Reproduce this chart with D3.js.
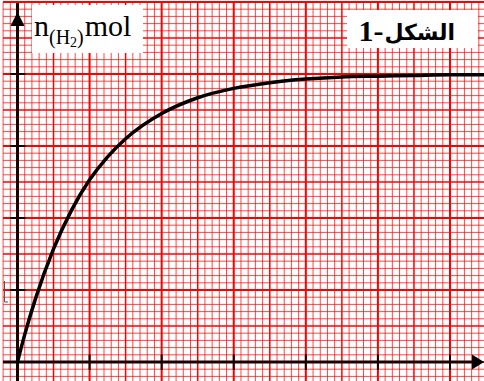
<!DOCTYPE html>
<html>
<head>
<meta charset="utf-8">
<script src="https://cdn.jsdelivr.net/npm/d3@7"></script>
<style>
  html, body { margin: 0; padding: 0; background: #fff; }
  svg { display: block; }
</style>
</head>
<body>
<script>
// Amount of H2 (mol) over time, read in grid units (1 unit = one major square)
const timeUnits = [0, 0.1, 0.25, 0.5, 0.75, 1, 1.25, 1.5, 2, 2.5, 3, 3.5, 4, 4.5, 5, 5.5, 6, 6.5];
const nH2Units  = [0, 0.38, 0.88, 1.57, 2.11, 2.53, 2.85, 3.1, 3.45, 3.67, 3.8, 3.88, 3.93, 3.96, 3.97, 3.98, 3.99, 3.99];
const xTicks = [1, 2, 3, 4, 5, 6];
const yTicks = [1, 2, 3, 4];
const yLabel = ["n", "(H", "2", ")", "mol"];
const figureWord = "الشكل";
const figureNumber = "1-";

const W = 484, H = 381;
const svg = d3.select("body").append("svg").attr("width", W).attr("height", H);

const x = d3.scaleLinear().domain([0, 6]).range([17.5, 450]);
const y = d3.scaleLinear().domain([0, 4]).range([362, 74]);

// graph paper: minor lines every 0.1 unit, heavier every 0.5 and 1
const gx = d3.range(-2, 66).map(i => i / 10);
const gy = d3.range(-2, 51).map(i => i / 10);
const weight = v => {
  const k = Math.round(v * 10);
  if (k % 10 === 0) return 2;
  if (k % 5 === 0) return 1.5;
  return 1;
};
const grid = svg.append("g").attr("stroke", "#ff0000");
grid.selectAll("line.v").data(gx).join("line").attr("class", "v")
  .attr("x1", d => x(d)).attr("x2", d => x(d))
  .attr("y1", 2).attr("y2", H)
  .attr("stroke-width", weight)
  .attr("stroke-opacity", d => weight(d) > 1 ? 1 : 0.72);
grid.selectAll("line.h").data(gy).join("line").attr("class", "h")
  .attr("y1", d => y(d)).attr("y2", d => y(d))
  .attr("x1", 3).attr("x2", W)
  .attr("stroke-width", weight)
  .attr("stroke-opacity", d => weight(d) > 1 ? 1 : 0.72);

// axes
const axisColor = "#1a0000";
svg.append("line").attr("x1", 3).attr("x2", 474).attr("y1", y(0)).attr("y2", y(0))
  .attr("stroke", axisColor).attr("stroke-width", 3);
svg.append("line").attr("x1", x(0)).attr("x2", x(0)).attr("y1", 3).attr("y2", H)
  .attr("stroke", axisColor).attr("stroke-width", 3);
// arrow heads
svg.append("path")
  .attr("d", `M${W},${y(0)} L${W - 12},${y(0) - 7.5} L${W - 12},${y(0) + 7.5} Z`)
  .attr("fill", "#000");
svg.append("path")
  .attr("d", `M${x(0)},12 L${x(0) - 7},26 L${x(0) + 7},26 Z`)
  .attr("fill", "#000");
// tick marks
svg.append("g").selectAll("line").data(xTicks).join("line")
  .attr("x1", d => x(d)).attr("x2", d => x(d))
  .attr("y1", y(0) - 7.5).attr("y2", y(0) + 8)
  .attr("stroke", axisColor).attr("stroke-width", 2);
svg.append("g").selectAll("line").data(yTicks).join("line")
  .attr("y1", d => y(d)).attr("y2", d => y(d))
  .attr("x1", x(0) - 7.5).attr("x2", x(0) + 8)
  .attr("stroke", axisColor).attr("stroke-width", 2);

// small stray mark at the left edge
svg.append("path").attr("d", "M4.5,281 L4.5,302 L8,302")
  .attr("fill", "none").attr("stroke", "#555").attr("stroke-width", 1);

// curve
const pts = timeUnits.map((t, i) => [t, nH2Units[i]]);
svg.append("path").datum(pts)
  .attr("fill", "none").attr("stroke", "#000").attr("stroke-width", 3.5)
  .attr("stroke-linecap", "round")
  .attr("d", d3.line().x(d => x(d[0])).y(d => y(d[1])).curve(d3.curveMonotoneX));

// y-axis label
svg.append("rect").attr("x", 32).attr("y", 5).attr("width", 111).attr("height", 48).attr("fill", "#fff");
const lab = svg.append("text").attr("x", 34).attr("y", 36)
  .attr("font-family", "'Liberation Serif', 'Times New Roman', serif").attr("fill", "#000");
lab.append("tspan").attr("font-size", 30).text(yLabel[0]);
lab.append("tspan").attr("font-size", 20).attr("dy", 8).text(yLabel[1]);
lab.append("tspan").attr("font-size", 14).attr("dy", 3).text(yLabel[2]);
lab.append("tspan").attr("font-size", 20).attr("dy", -3).text(yLabel[3]);
lab.append("tspan").attr("font-size", 30).attr("dy", -8).attr("dx", 1).text(yLabel[4]);

// figure label: Arabic word on the right, "1-" to its left
svg.append("rect").attr("x", 347).attr("y", 10).attr("width", 131).attr("height", 38).attr("fill", "#fff");
const word = svg.append("text").attr("x", 455).attr("y", 40)
  .attr("text-anchor", "end")
  .attr("font-family", "'DejaVu Sans', sans-serif")
  .attr("font-weight", "bold").attr("font-size", 22).attr("fill", "#000")
  .text(figureWord);
const wordLen = word.node().getComputedTextLength();
svg.append("text").attr("x", 455 - wordLen - 1).attr("y", 41)
  .attr("text-anchor", "end")
  .attr("font-family", "'Liberation Serif', 'Times New Roman', serif")
  .attr("font-weight", "bold").attr("font-size", 30).attr("fill", "#000")
  .text(figureNumber);
</script>
</body>
</html>
